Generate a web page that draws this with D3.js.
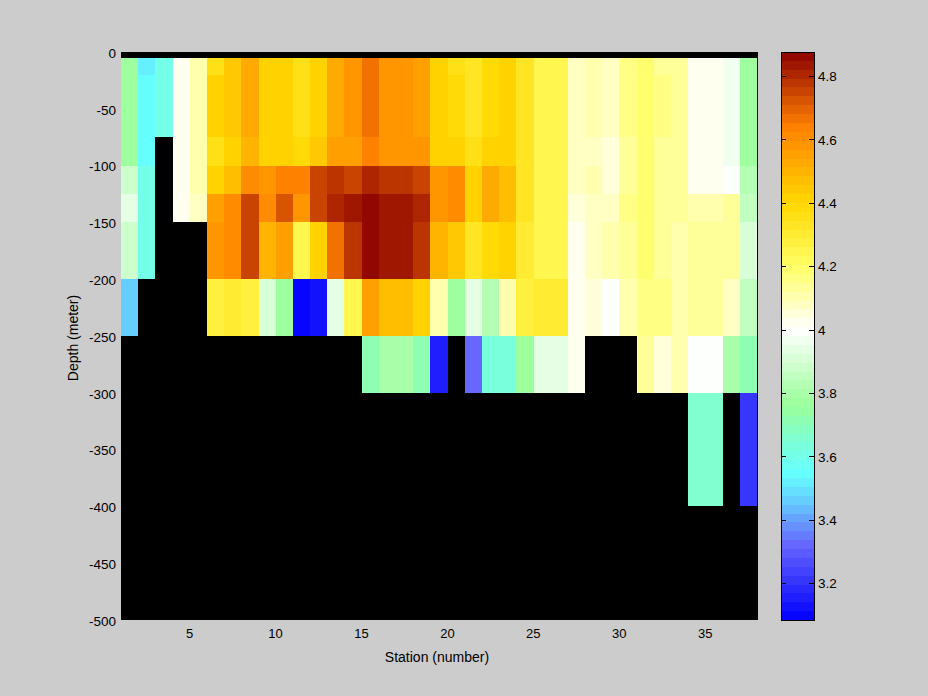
<!DOCTYPE html>
<html><head><meta charset="utf-8">
<script src="https://cdn.jsdelivr.net/npm/d3@7"></script>
<style>
html,body{margin:0;padding:0;background:#ccc;}
svg{display:block;}
text{font-family:"Liberation Sans",Arial,sans-serif;fill:#000;}
</style></head><body>
<div id="c"></div>
<script>
const _ = null;
const stations = [1,38];
const depthEdges = [0,-5,-20,-75,-100,-125,-150,-200,-250,-300,-400,-500];
const xTicks = [5,10,15,20,25,30,35];
const yTicks = [0,-50,-100,-150,-200,-250,-300,-350,-400,-450,-500];
const cbTicks = [3.2,3.4,3.6,3.8,4,4.2,4.4,4.6,4.8];
const cbDomain = [3.083,4.876];
const colorStops = [3.083,3.32,3.457,3.545,3.65,3.76,4.0,4.2,4.4,4.54,4.64,4.876];
const colorValues = ["#0000ff","#6666ff","#66ccff","#66ffff","#7fffd4","#99ff99","#ffffff","#ffff66","#ffd700","#ffa500","#ff8000","#8b0000"];

const row0 = Array(37).fill(_);
const row1 = [3.76,3.52,3.61,4.03,4.11,4.37,4.44,4.52,4.40,4.42,4.36,4.42,4.52,4.57,4.67,4.57,4.57,4.54,4.40,4.37,4.33,4.38,4.40,4.32,4.24,4.24,4.09,4.11,4.09,4.15,4.19,4.13,4.13,4.03,4.03,3.97,3.76];
const row2 = [3.76,3.55,3.61,4.03,4.11,4.40,4.44,4.52,4.40,4.42,4.36,4.42,4.52,4.57,4.67,4.57,4.57,4.54,4.40,4.38,4.33,4.38,4.40,4.32,4.24,4.24,4.09,4.11,4.09,4.15,4.19,4.17,4.13,4.03,4.03,3.97,3.76];
const row3 = [3.76,3.55,_,4.02,4.11,4.37,4.42,4.50,4.40,4.42,4.38,4.44,4.54,4.54,4.64,4.58,4.58,4.58,4.42,4.40,4.36,4.40,4.40,4.32,4.24,4.24,4.09,4.09,4.06,4.14,4.19,4.13,4.13,4.03,4.03,3.97,3.76];
const row4 = [3.88,3.60,_,4.02,4.11,4.40,4.48,4.60,4.58,4.64,4.64,4.74,4.77,4.74,4.80,4.77,4.77,4.74,4.57,4.60,4.42,4.52,4.48,4.32,4.24,4.24,4.09,4.11,4.06,4.14,4.19,4.13,4.13,4.03,4.03,4.00,3.83];
const row5 = [3.94,3.60,_,4.01,4.09,4.54,4.60,4.74,4.60,4.71,4.57,4.74,4.80,4.82,4.875,4.84,4.84,4.80,4.58,4.61,4.42,4.52,4.48,4.32,4.24,4.24,4.06,4.08,4.09,4.15,4.19,4.14,4.14,4.10,4.10,4.13,3.86];
const row6 = [3.88,3.60,_,_,_,4.57,4.60,4.74,4.50,4.54,4.24,4.42,4.67,4.77,4.875,4.82,4.82,4.77,4.50,4.44,4.33,4.38,4.42,4.30,4.24,4.24,4.03,4.08,4.11,4.12,4.19,4.14,4.10,4.14,4.14,4.14,3.90];
const row7 = [3.45,_,_,_,_,4.26,4.31,4.26,3.90,3.78,3.09,3.12,3.94,4.24,4.54,4.48,4.48,4.40,4.11,3.76,3.94,3.83,4.11,4.26,4.29,4.29,4.01,4.06,4.00,4.10,4.15,4.16,4.11,4.14,4.14,4.08,3.84];
const row8 = [_,_,_,_,_,_,_,_,_,_,_,_,_,_,3.71,3.80,3.80,3.70,3.15,_,3.32,3.62,3.62,3.77,3.94,3.94,4.01,_,_,_,4.14,4.06,4.10,3.99,3.99,3.80,3.71];
const row9 = [_,_,_,_,_,_,_,_,_,_,_,_,_,_,_,_,_,_,_,_,_,_,_,_,_,_,_,_,_,_,_,_,_,3.65,3.65,_,3.22];
const row10 = Array(37).fill(_);
const rows = [row0,row1,row2,row3,row4,row5,row6,row7,row8,row9,row10];

const W = 928, H = 696;
const svg = d3.select("#c").append("svg").attr("width",W).attr("height",H);
svg.append("rect").attr("width",W).attr("height",H).attr("fill","#cccccc");

const x = d3.scaleLinear().domain(stations).range([121,757]);
const y = d3.scaleLinear().domain([-500,0]).range([620,52]);

const ramp = d3.scaleLinear().domain(colorStops).range(colorValues).interpolate(d3.interpolateRgb);
const nLevels = 64;
const levels = d3.range(nLevels);
const levelStep = (cbDomain[1]-cbDomain[0])/nLevels;
const color = d3.scaleQuantize().domain(cbDomain)
  .range(levels.map(i => ramp(cbDomain[0]+(i+0.5)*levelStep)));

// main panel
const g = svg.append("g").attr("shape-rendering","crispEdges");
g.append("rect").attr("x",x(1)).attr("y",y(0)).attr("width",x(38)-x(1)).attr("height",y(-500)-y(0)).attr("fill","#000");
rows.forEach((r,ri)=>{
  g.selectAll(null).data(r.map((v,i)=>({v,i})).filter(d=>d.v!==null)).enter().append("rect")
    .attr("x",d=>Math.round(x(d.i+1)))
    .attr("width",d=>Math.round(x(d.i+2))-Math.round(x(d.i+1)))
    .attr("y",Math.round(y(depthEdges[ri])))
    .attr("height",Math.round(y(depthEdges[ri+1]))-Math.round(y(depthEdges[ri])))
    .attr("fill",d=>color(d.v));
});
g.append("line").attr("x1",x(38)+0.5).attr("x2",x(38)+0.5).attr("y1",y(0)).attr("y2",y(-500)).attr("stroke","#000");

function styleAxis(sel, size){
  sel.select(".domain").remove();
  sel.selectAll("text").style("font-family",'"Liberation Sans",Arial,sans-serif').style("font-size",size+"px").attr("fill","#000");
}
svg.append("g").attr("transform",`translate(-0.7,${y(-500)})`)
  .call(d3.axisBottom(x).tickValues(xTicks).tickFormat(d3.format("d")).tickSize(0).tickPadding(9))
  .call(styleAxis,13);
svg.append("g").attr("transform",`translate(${x(1)},1)`)
  .call(d3.axisLeft(y).tickValues(yTicks).tickFormat(d=>String(d)).tickSize(0).tickPadding(5))
  .call(styleAxis,13.5);

svg.append("text").attr("x",437).attr("y",662).attr("text-anchor","middle").style("font-size","14px").text("Station (number)");
svg.append("text").attr("transform","translate(78,338) rotate(-90)").attr("text-anchor","middle").style("font-size","14px").text("Depth (meter)");

// colorbar
const cb = d3.scaleLinear().domain(cbDomain).range([620,52]);
const cbg = svg.append("g").attr("shape-rendering","crispEdges");
cbg.selectAll("rect").data(levels).enter().append("rect")
  .attr("x",781).attr("width",33)
  .attr("y",i=>Math.round(cb(cbDomain[0]+(i+1)*levelStep)))
  .attr("height",i=>Math.round(cb(cbDomain[0]+i*levelStep))-Math.round(cb(cbDomain[0]+(i+1)*levelStep)))
  .attr("fill",i=>color.range()[i]);
cbg.append("rect").attr("x",781.5).attr("y",52.5).attr("width",33).attr("height",568).attr("fill","none").attr("stroke","#000");
svg.append("g").attr("transform","translate(814.5,0.5)")
  .call(d3.axisRight(cb).tickValues(cbTicks).tickFormat(d=>String(d)).tickSize(0).tickPadding(3.5))
  .call(styleAxis,13.5);
const cbT = svg.append("g").attr("shape-rendering","crispEdges").selectAll("g").data(cbTicks).enter().append("g");
cbT.append("line").attr("x1",781).attr("x2",786).attr("y1",d=>Math.round(cb(d))+0.5).attr("y2",d=>Math.round(cb(d))+0.5).attr("stroke","#000");
cbT.append("line").attr("x1",809).attr("x2",814).attr("y1",d=>Math.round(cb(d))+0.5).attr("y2",d=>Math.round(cb(d))+0.5).attr("stroke","#000");
</script>
</body></html>
